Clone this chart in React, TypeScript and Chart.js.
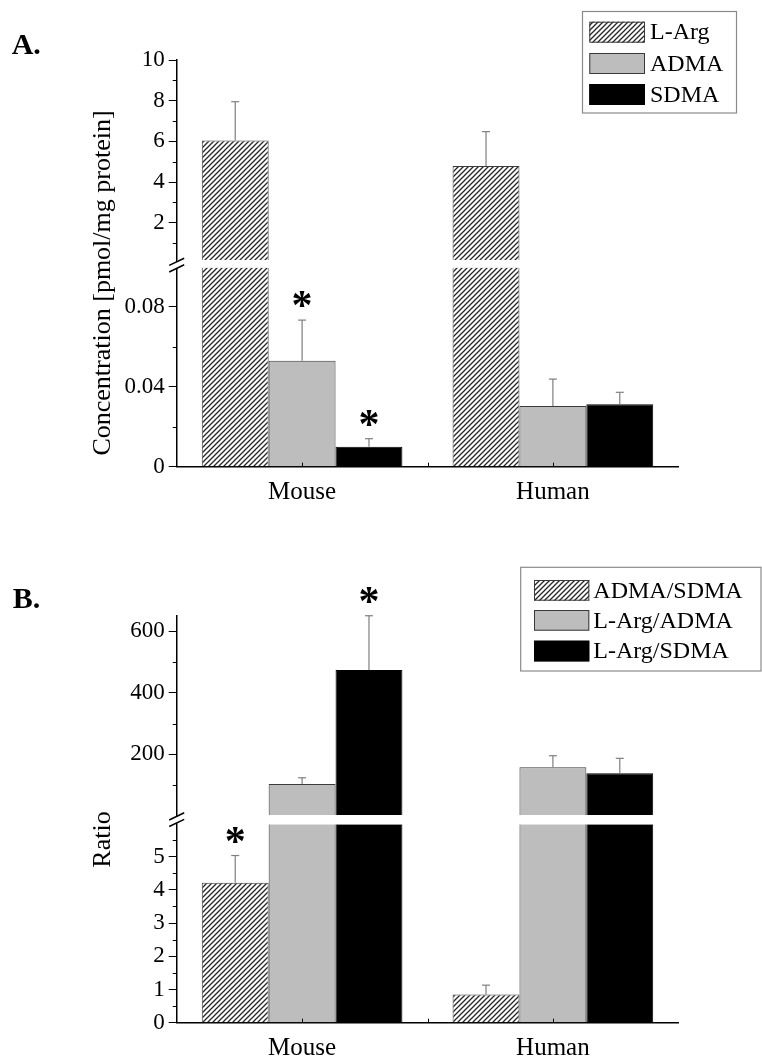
import React, { useEffect, useRef } from 'react';
import { Chart, registerables } from 'chart.js';

Chart.register(...registerables);

const FONT = "'Liberation Serif', 'Times New Roman', Times, serif";

// ---------- shared ----------
const categories = ['Mouse', 'Human'];

// ---------- Panel A: concentrations [pmol/mg protein] ----------
const seriesA = ['L-Arg', 'ADMA', 'SDMA'];
const lArgConc = [6.05, 4.79];
const lArgConcErr = [1.9, 1.69];
const admaConc = [0.053, 0.0303];
const admaConcErr = [0.0203, 0.0135];
const sdmaConc = [0.01, 0.0312];
const sdmaConcErr = [0.004, 0.006];
const sigConc = [
  [false, false],
  [true, false],
  [true, false],
];
const rangeAUpper = [0, 10];
const rangeALower = [0, 0.1];
const ticksAUpper = [2, 4, 6, 8, 10];
const minorAUpper = [1, 3, 5, 7, 9];
const ticksALower = [0, 0.04, 0.08];
const minorALower = [0.02, 0.06];

// ---------- Panel B: ratios ----------
const seriesB = ['ADMA/SDMA', 'L-Arg/ADMA', 'L-Arg/SDMA'];
const admaSdmaRatio = [4.21, 0.85];
const admaSdmaRatioErr = [0.82, 0.28];
const lArgAdmaRatio = [104, 158];
const lArgAdmaRatioErr = [20, 37.5];
const lArgSdmaRatio = [473.5, 138.4];
const lArgSdmaRatioErr = [176, 48.6];
const sigRatio = [
  [true, false],
  [false, false],
  [true, false],
];
const rangeBUpper = [0, 650];
const rangeBLower = [0, 6];
const ticksBUpper = [200, 400, 600];
const minorBUpper = [100, 300, 500];
const ticksBLower = [0, 1, 2, 3, 4, 5];
const minorBLower = [0.5, 1.5, 2.5, 3.5, 4.5, 5.5];

type Legend = { x: number; y: number; w: number; h: number; swX: number; swW: number; swH: number; rows: number[]; textX: number };
type Panel = {
  series: string[];
  values: number[][];
  errors: number[][];
  sig: boolean[][];
  upRange: number[];
  lowRange: number[];
  upMajor: number[];
  upMinor: number[];
  lowMajor: number[];
  lowMinor: number[];
  weights: number[];
  top: number;
  right: number;
  xHeight: number;
  axisW: number;
  bandAbove: number;
  bandBelow: number;
  title: string;
  titleX: number;
  titleY: number;
  label: string;
  labelX: number;
  labelY: number;
  legend: Legend;
};

const panelA: Panel = {
  series: seriesA,
  values: [lArgConc, admaConc, sdmaConc],
  errors: [lArgConcErr, admaConcErr, sdmaConcErr],
  sig: sigConc,
  upRange: rangeAUpper,
  lowRange: rangeALower,
  upMajor: ticksAUpper,
  upMinor: minorAUpper,
  lowMajor: ticksALower,
  lowMinor: minorALower,
  weights: [203.5, 3.2, 200],
  top: 60,
  right: 83.7,
  xHeight: 53.3,
  axisW: 176.7,
  bandAbove: 3.5,
  bandBelow: 1.2,
  title: 'Concentration [pmol/mg protein]',
  titleX: 110,
  titleY: 283,
  label: 'A.',
  labelX: 11.7,
  labelY: 54,
  legend: { x: 582.5, y: 11.5, w: 154, h: 101.5, swX: 589.3, swW: 55.7, swH: 21, rows: [21.7, 53, 84], textX: 650 },
};

const panelB: Panel = {
  series: seriesB,
  values: [admaSdmaRatio, lArgAdmaRatio, lArgSdmaRatio],
  errors: [admaSdmaRatioErr, lArgAdmaRatioErr, lArgSdmaRatioErr],
  sig: sigRatio,
  upRange: rangeBUpper,
  lowRange: rangeBLower,
  upMajor: ticksBUpper,
  upMinor: minorBUpper,
  lowMajor: ticksBLower,
  lowMinor: minorBLower,
  weights: [200.4, 7.3, 199.4],
  top: 95.6,
  right: 83.7,
  xHeight: 34.3,
  axisW: 176.7,
  bandAbove: 1,
  bandBelow: 1.2,
  title: 'Ratio',
  titleX: 110,
  titleY: 319.5,
  label: 'B.',
  labelX: 12.7,
  labelY: 88.3,
  legend: { x: 520.7, y: 47.3, w: 240.3, h: 103.7, swX: 534, swW: 55.3, swH: 20.7, rows: [60, 90, 120.7], textX: 593.3 },
};

function makeHatch(ctx: CanvasRenderingContext2D): CanvasPattern | string {
  const s = 5;
  const c = document.createElement('canvas');
  c.width = s;
  c.height = s;
  const g = c.getContext('2d');
  if (!g) return '#999';
  g.fillStyle = '#ffffff';
  g.fillRect(0, 0, s, s);
  g.strokeStyle = '#262626';
  g.lineWidth = 1.3;
  g.beginPath();
  g.moveTo(0, s);
  g.lineTo(s, 0);
  g.moveTo(-1, 1);
  g.lineTo(1, -1);
  g.moveTo(s - 1, s + 1);
  g.lineTo(s + 1, s - 1);
  g.stroke();
  return ctx.createPattern(c, 'repeat') || '#999';
}

function line(ctx: CanvasRenderingContext2D, x1: number, y1: number, x2: number, y2: number) {
  ctx.beginPath();
  ctx.moveTo(x1, y1);
  ctx.lineTo(x2, y2);
  ctx.stroke();
}

function decoPlugin(p: Panel, fills: any[], borders: string[]) {
  return {
    id: 'deco',
    afterDatasetsDraw(chart: any) {
      const ctx: CanvasRenderingContext2D = chart.ctx;
      const up = chart.scales.yUp;
      const low = chart.scales.yLow;
      const area = chart.chartArea;
      ctx.save();
      // white break band across the bars
      ctx.fillStyle = '#ffffff';
      const bt = up.bottom - p.bandAbove;
      const bb = low.top + p.bandBelow;
      ctx.fillRect(area.left + 1, bt, area.right - area.left, bb - bt);
      const lowMax = p.lowRange[1];
      p.values.forEach((vals, s) => {
        vals.forEach((v, i) => {
          const onUp = v > lowMax;
          const el = chart.getDatasetMeta(s * 2 + (onUp ? 1 : 0)).data[i];
          if (!el) return;
          const sc = onUp ? up : low;
          const yTop = sc.getPixelForValue(v);
          const yErr = sc.getPixelForValue(v + p.errors[s][i]);
          ctx.strokeStyle = '#7f7f7f';
          ctx.lineWidth = 1.2;
          line(ctx, el.x, yTop, el.x, yErr);
          line(ctx, el.x - 4, yErr, el.x + 4, yErr);
          if (p.sig[s][i]) {
            ctx.fillStyle = '#000';
            ctx.font = `bold 42px ${FONT}`;
            ctx.textAlign = 'center';
            ctx.textBaseline = 'alphabetic';
            ctx.fillText('*', el.x, yErr - 1);
          }
        });
      });
      ctx.restore();
    },
    afterDraw(chart: any) {
      const ctx: CanvasRenderingContext2D = chart.ctx;
      const up = chart.scales.yUp;
      const low = chart.scales.yLow;
      const xs = chart.scales.x;
      const area = chart.chartArea;
      const ax = area.left;
      ctx.save();
      ctx.strokeStyle = '#000';
      ctx.lineWidth = 1;
      // minor ticks
      const pairs: [any, number[]][] = [
        [up, p.upMinor],
        [low, p.lowMinor],
      ];
      for (const [sc, minors] of pairs) {
        for (const v of minors) {
          const y = Math.round(sc.getPixelForValue(v)) + 0.5;
          line(ctx, ax - 4, y, ax, y);
        }
      }
      // x ticks (inward)
      const x0 = xs.getPixelForValue(0);
      const x1 = xs.getPixelForValue(1);
      for (const xx of [x0, (x0 + x1) / 2, x1]) {
        const rx = Math.round(xx) + 0.5;
        line(ctx, rx, area.bottom, rx, area.bottom - 4);
      }
      // axis break marks
      const yc = (up.bottom + low.top) / 2;
      ctx.fillStyle = '#fff';
      ctx.fillRect(ax - 2.5, yc - 3, 5, 6);
      ctx.lineWidth = 1.5;
      for (const d of [-3.3, 3.3]) {
        line(ctx, ax - 7.5, yc + d + 3.6, ax + 7.5, yc + d - 3.6);
      }
      // axis title
      ctx.fillStyle = '#000';
      ctx.font = `26px ${FONT}`;
      ctx.save();
      ctx.translate(p.titleX, p.titleY);
      ctx.rotate(-Math.PI / 2);
      ctx.textAlign = 'center';
      ctx.textBaseline = 'alphabetic';
      ctx.fillText(p.title, 0, 0);
      ctx.restore();
      // panel label
      ctx.font = `bold 30px ${FONT}`;
      ctx.textAlign = 'left';
      ctx.textBaseline = 'alphabetic';
      ctx.fillText(p.label, p.labelX, p.labelY);
      // legend
      const L = p.legend;
      ctx.strokeStyle = '#8a8a8a';
      ctx.lineWidth = 1.2;
      ctx.strokeRect(L.x, L.y, L.w, L.h);
      p.series.forEach((name, s) => {
        const ry = L.rows[s];
        ctx.fillStyle = fills[s];
        ctx.fillRect(L.swX, ry, L.swW, L.swH);
        ctx.strokeStyle = borders[s];
        ctx.lineWidth = 1;
        ctx.strokeRect(L.swX + 0.5, ry + 0.5, L.swW - 1, L.swH - 1);
        ctx.fillStyle = '#000';
        ctx.font = `24px ${FONT}`;
        ctx.textAlign = 'left';
        ctx.textBaseline = 'middle';
        ctx.fillText(name, L.textX, ry + L.swH / 2 + 1);
      });
      ctx.restore();
    },
  };
}

function yScale(p: Panel, min: number, max: number, majors: number[], weight: number, stackWeight: number, show: boolean) {
  return {
    type: 'linear',
    position: 'left',
    stack: 'y',
    stackWeight,
    weight,
    min,
    max,
    stacked: false,
    afterBuildTicks: (sc: any) => {
      sc.ticks = majors.map((v) => ({ value: v }));
    },
    afterFit: (sc: any) => {
      sc.width = p.axisW;
    },
    ticks: {
      display: show,
      autoSkip: false,
      font: { family: FONT, size: 23 },
      color: '#000',
      padding: 4,
      callback: (v: any) => String(v),
    },
    grid: { display: show, drawOnChartArea: false, drawTicks: true, tickLength: 8, color: '#000', lineWidth: 1 },
    border: { display: show, color: '#000', width: 1.5 },
    z: 1,
  };
}

function makeChart(canvas: HTMLCanvasElement, p: Panel) {
  const ctx = canvas.getContext('2d') as CanvasRenderingContext2D;
  const fills = [makeHatch(ctx), '#bdbdbd', '#000000'];
  const borders = ['#3a3a3a', '#3a3a3a', '#000000'];
  const lowMax = p.lowRange[1];
  const datasets: any[] = [];
  p.series.forEach((name, s) => {
    const vals = p.values[s];
    const common = {
      label: name,
      stack: name,
      backgroundColor: fills[s],
      borderColor: borders[s],
      borderWidth: 1,
      categoryPercentage: 0.8,
      barPercentage: 1,
    };
    datasets.push({ ...common, data: vals.map((v) => Math.min(v, lowMax)), yAxisID: 'yLow' });
    datasets.push({ ...common, data: vals.map((v) => (v > lowMax ? v : null)), yAxisID: 'yUp' });
  });

  return new Chart(canvas, {
    type: 'bar',
    data: { labels: categories, datasets },
    plugins: [decoPlugin(p, fills, borders)],
    options: {
      animation: false,
      responsive: false,
      devicePixelRatio: 1,
      events: [],
      layout: { padding: { top: p.top, left: 0, right: p.right, bottom: 0 } },
      plugins: { legend: { display: false }, tooltip: { enabled: false }, title: { display: false } },
      scales: {
        x: {
          type: 'category',
          position: 'bottom',
          offset: true,
          grid: { display: false, drawTicks: false },
          border: { display: true, color: '#000', width: 1.5 },
          ticks: { font: { family: FONT, size: 25 }, color: '#000', padding: 11 },
          afterFit: (sc: any) => {
            sc.height = p.xHeight;
          },
          z: 1,
        },
        yLow: yScale(p, p.lowRange[0], p.lowRange[1], p.lowMajor, 1, p.weights[2], true),
        yGap: yScale(p, 0, 1, [], 2, p.weights[1], false),
        yUp: yScale(p, p.upRange[0], p.upRange[1], p.upMajor, 3, p.weights[0], true),
      } as any,
    },
  } as any);
}

export default function App() {
  const refA = useRef<HTMLCanvasElement>(null);
  const refB = useRef<HTMLCanvasElement>(null);
  useEffect(() => {
    const a = makeChart(refA.current as HTMLCanvasElement, panelA);
    const b = makeChart(refB.current as HTMLCanvasElement, panelB);
    return () => {
      a.destroy();
      b.destroy();
    };
  }, []);
  return (
    <div style={{ position: 'absolute', left: 0, top: 0, width: 762, height: 1057, background: '#fff' }}>
      <canvas ref={refA} width={762} height={520} style={{ position: 'absolute', left: 0, top: 0, width: 762, height: 520 }} />
      <canvas ref={refB} width={762} height={537} style={{ position: 'absolute', left: 0, top: 520, width: 762, height: 537 }} />
    </div>
  );
}
